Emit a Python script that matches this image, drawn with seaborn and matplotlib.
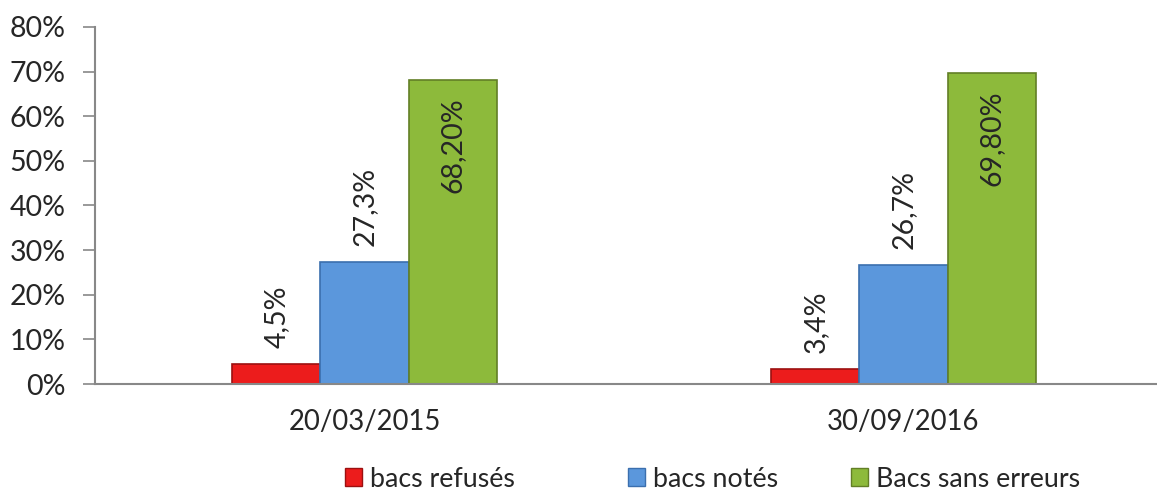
import pandas as pd
import matplotlib
matplotlib.use('Agg')
import matplotlib.pyplot as plt
import matplotlib.patches as mpatches
import seaborn as sns

dates = ['20/03/2015', '30/09/2016']
series = ['bacs refusés', 'bacs notés', 'Bacs sans erreurs']
refuses = [4.5, 3.4]
notes = [27.3, 26.7]
sans_erreurs = [68.2, 69.8]
value_labels = {
    'bacs refusés': ['4,5%', '3,4%'],
    'bacs notés': ['27,3%', '26,7%'],
    'Bacs sans erreurs': ['68,20%', '69,80%'],
}
yticks = [0, 10, 20, 30, 40, 50, 60, 70, 80]

colors = ['#ec1c1c', '#5b97dc', '#8dba3b']
edges = ['#9c1010', '#3b6fae', '#627f26']

df = pd.DataFrame({
    'date': dates * 3,
    'serie': [series[0]] * 2 + [series[1]] * 2 + [series[2]] * 2,
    'value': refuses + notes + sans_erreurs,
})

sns.set_style('white')
plt.rcParams['font.family'] = ['Lato', 'DejaVu Sans']
FS = 20.5

fig = plt.figure(figsize=(11.57, 4.9), dpi=100)
ax = fig.add_axes([95 / 1157, 106 / 490, 1078 / 1157, 357 / 490])

sns.barplot(data=df, x='date', y='value', hue='serie', order=dates,
            hue_order=series, palette=colors, width=0.49, gap=0,
            saturation=1, legend=False, ax=ax)

# colour edges and add the rotated labels
for i, cont in enumerate(ax.containers):
    s = series[i]
    for j, bar in enumerate(cont):
        bar.set_edgecolor(edges[i])
        bar.set_linewidth(1.2)
        x = bar.get_x() + bar.get_width() / 2
        h = bar.get_height()
        if i == 2:
            ax.annotate(value_labels[s][j], (x, h), xytext=(0, -18),
                        textcoords='offset pixels', rotation=90,
                        ha='center', va='top', fontsize=FS)
        else:
            ax.annotate(value_labels[s][j], (x, h), xytext=(0, 16),
                        textcoords='offset pixels', rotation=90,
                        ha='center', va='bottom', fontsize=FS)

ax.set_xlim(-0.5, 1.5)
ax.set_ylim(0, 80)
ax.set_yticks(yticks)
ax.set_yticklabels([f'{v}%' for v in yticks], fontsize=FS)
ax.set_xticks([0, 1])
ax.set_xticklabels(dates, fontsize=19.8)
ax.set_xticks([-0.5, 0.5, 1.5], minor=True)
ax.tick_params(axis='x', which='major', length=0, pad=18)
ax.tick_params(axis='x', which='minor', length=8, width=1.2, color='#888888', direction='out')
ax.tick_params(axis='y', length=9, width=1.2, color='#888888', direction='out', pad=12, left=True)
ax.set_xlabel('')
ax.set_ylabel('')
for sp in ['top', 'right']:
    ax.spines[sp].set_visible(False)
for sp in ['left', 'bottom']:
    ax.spines[sp].set_color('#888888')
    ax.spines[sp].set_linewidth(1.5)

# one legend entry per series, placed like the original
legend_x = [345, 628, 851]
for c, e, s, lx in zip(colors, edges, series, legend_x):
    h = mpatches.Patch(facecolor=c, edgecolor=e, label=s)
    fig.legend(handles=[h], loc='center left', bbox_to_anchor=(lx / 1157, 1 - 479 / 490),
               frameon=False, fontsize=19.3, handlelength=0.62, handleheight=0.62,
               handletextpad=0.3, borderpad=0, borderaxespad=0)

plt.savefig('out.png', dpi=100)
